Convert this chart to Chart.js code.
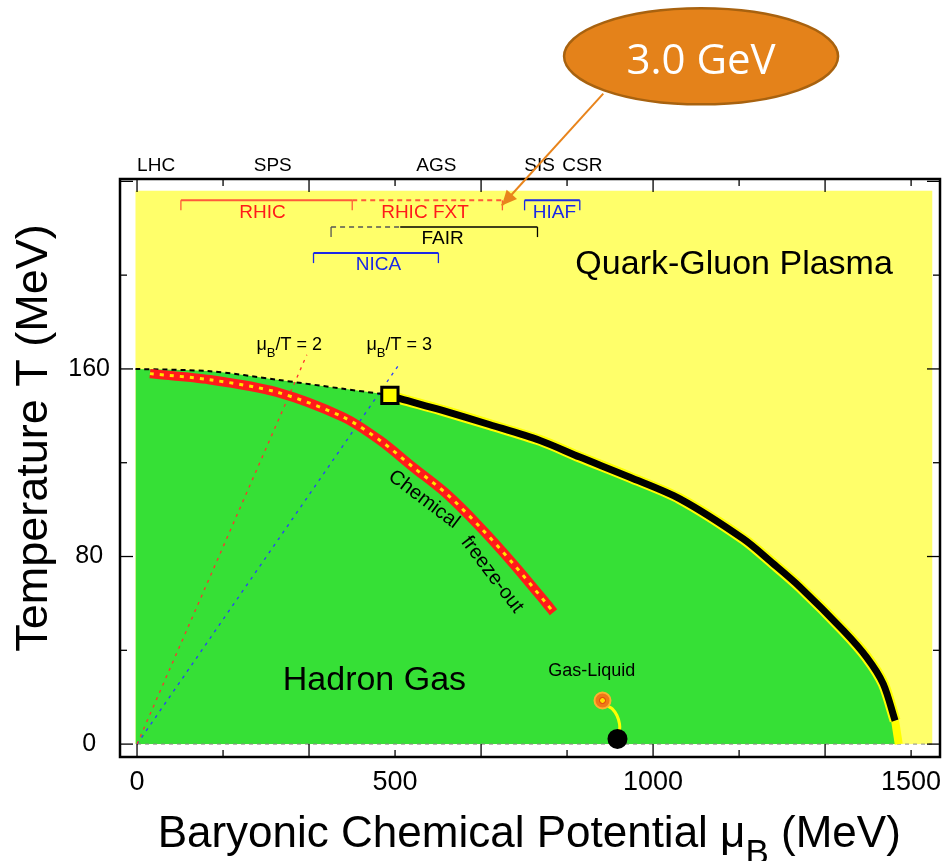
<!DOCTYPE html>
<html>
<head>
<meta charset="utf-8">
<title>QCD phase diagram</title>
<script src="https://cdn.jsdelivr.net/npm/chart.js@4.4.1/dist/chart.umd.min.js"></script>
<style>
  html, body { margin: 0; padding: 0; background: #fff; }
  #wrap { position: relative; width: 942px; height: 861px; }
</style>
</head>
<body>
<div id="wrap"><canvas id="phaseChart"></canvas></div>
<script>
// ---- data: mu_B and T, both in MeV ----
const crossoverMu = [-3, 142, 271, 400, 471, 490];
const crossoverT  = [160, 159, 155.4, 151.5, 149.4, 148.7];

const transitionMu = [490, 510, 587, 684, 781, 858, 955, 1052, 1175, 1233, 1285, 1369, 1414, 1446, 1469];
const transitionT  = [148.7, 147.3, 142.6, 136.2, 129.5, 122.4, 113.8, 104.6, 87.5, 76.9, 66.9, 48.4, 37.0, 25.7, 10.0];

const endMu = [1469, 1476];
const endT  = [10, 0];

const freezeMu = [25, 141, 271, 400, 471, 535, 600, 665, 729, 794, 807];
const freezeT  = [158.0, 155.4, 150.1, 139.4, 129.5, 118.1, 106.7, 92.5, 76.9, 59.8, 56.2];

const ratio2Mu = [0, 329];
const ratio2T  = [0, 166];
const ratio3Mu = [0, 508];
const ratio3T  = [0, 162];

const baseMu = [0, 1540];
const baseT  = [0, 0];

const criticalPoint  = [490, 148.7];
const gasLiquidPoint = [902, 18.6];
const nuclearMatter  = [931, 2.2];
const linkMu = [902, 911, 921, 930, 935, 935, 931];
const linkT  = [18.6, 16.4, 15.0, 12.2, 8.6, 5.8, 2.2];

// ticks
const xTickLabels = [0, 500, 1000, 1500];
const xMajorTicks = [0, 333.3, 666.7, 1000, 1333.3];
const xMinorTicks = [166.7, 500, 833.3, 1166.7, 1500];
const yTickLabels = [0, 80, 160];
const yMajorTicks = [0, 80, 160, 240];
const yMinorTicks = [40, 120, 200];

// accelerators along the top
const acceleratorNames = ['LHC', 'SPS', 'AGS', 'SIS', 'CSR'];
const acceleratorMu    = [37, 263, 580, 780, 863];

// facility reach brackets
const facilityNames  = ['RHIC', 'RHIC FXT', 'HIAF', 'FAIR', 'NICA'];
const facilityFrom   = [85, 417, 751, 376, 342];
const facilitySolid  = [85, 708, 751, 510, 342];   // dashed up to here
const facilityTo     = [417, 708, 858, 776, 584];
const facilityLevelT = [231.9, 231.9, 231.9, 220.5, 209.4];
const facilityLabelMu = [243, 558, 809, 592, 468];

const X_MIN = -33, X_MAX = 1556, Y_MIN = -5.5, Y_MAX = 241;
const FONT = "'Liberation Sans', Arial, Helvetica, sans-serif";

function zip(xs, ys) {
    return xs.map((x, i) => ({ x: x, y: ys[i] }));
}

const canvas = document.getElementById('phaseChart');
const ctx = canvas.getContext('2d');

const QGP_COLOR = '#ffff6a';
const HADRON_COLOR = '#36e036';

const facilityStyle = {
    'RHIC':     { line: '#ff5a3a', text: '#ff1a1a' },
    'RHIC FXT': { line: '#ff5a3a', text: '#ff1a1a' },
    'HIAF':     { line: '#1a28e6', text: '#1a28e6' },
    'FAIR':     { line: '#000000', text: '#000000', dash: '#555555' },
    'NICA':     { line: '#1a28e6', text: '#1a28e6' }
};

function text(c, str, x, y, font, color, align, baseline) {
    c.font = font;
    c.fillStyle = color;
    c.textAlign = align || 'center';
    c.textBaseline = baseline || 'alphabetic';
    c.fillText(str, x, y);
}

// text with a subscript piece: parts = [[str, isSub], ...]
function subText(c, parts, cx, y, size, color, subScale, drop) {
    const subSize = Math.round(size * (subScale || 0.72));
    const dy = size * (drop || 0.36);
    let total = 0;
    parts.forEach(p => {
        c.font = (p[1] ? subSize : size) + 'px ' + FONT;
        total += c.measureText(p[0]).width;
    });
    let x = cx - total / 2;
    c.fillStyle = color;
    c.textAlign = 'left';
    c.textBaseline = 'alphabetic';
    parts.forEach(p => {
        c.font = (p[1] ? subSize : size) + 'px ' + FONT;
        c.fillText(p[0], x, p[1] ? y + dy : y);
        x += c.measureText(p[0]).width;
    });
}

const phasePlugin = {
    id: 'phaseDecor',
    beforeDatasetsDraw(chart) {
        const c = chart.ctx, xs = chart.scales.x, ys = chart.scales.y;
        c.save();
        c.fillStyle = QGP_COLOR;
        const l = xs.getPixelForValue(-3), r = xs.getPixelForValue(1541);
        const t = ys.getPixelForValue(236), b = ys.getPixelForValue(0);
        c.fillRect(l, t, r - l, b - t);
        c.restore();
    },
    afterDatasetsDraw(chart) {
        const c = chart.ctx, xs = chart.scales.x, ys = chart.scales.y;
        const a = chart.chartArea;
        const px = v => xs.getPixelForValue(v);
        const py = v => ys.getPixelForValue(v);
        c.save();

        // region names
        text(c, 'Quark-Gluon Plasma', px(1157), py(200.6), '34px ' + FONT, '#000');
        text(c, 'Hadron Gas', px(460), py(23.0), '34px ' + FONT, '#000');
        text(c, 'Gas-Liquid', px(881), py(29.2), '18px ' + FONT, '#000');
        subText(c, [['\u03bc', false], ['B', true], ['/T = 2', false]], px(295), py(167.9), 18, '#000');
        subText(c, [['\u03bc', false], ['B', true], ['/T = 3', false]], px(508), py(167.9), 18, '#000');

        // rotated freeze-out label
        [['Chemical', 556, 104.3, 37], ['freeze-out', 688, 72.3, 53]].forEach(s => {
            c.save();
            c.translate(px(s[1]), py(s[2]));
            c.rotate(s[3] * Math.PI / 180);
            text(c, s[0], 0, 0, '20px ' + FONT, '#000', 'center', 'middle');
            c.restore();
        });

        // facility brackets
        facilityNames.forEach((name, i) => {
            const st = facilityStyle[name];
            const y = py(facilityLevelT[i]);
            const x0 = px(facilityFrom[i]), xm = px(facilitySolid[i]), x1 = px(facilityTo[i]);
            c.lineWidth = name === 'FAIR' ? 1.5 : 2;
            if (xm > x0) {
                c.strokeStyle = st.dash || st.line;
                c.setLineDash([5, 4]);
                c.beginPath(); c.moveTo(x0, y); c.lineTo(xm, y); c.stroke();
                c.setLineDash([]);
            }
            c.strokeStyle = st.line;
            if (x1 > xm) {
                c.beginPath(); c.moveTo(xm, y); c.lineTo(x1, y); c.stroke();
            }
            c.lineWidth = 1.3;
            if (name !== 'RHIC FXT') {
                c.strokeStyle = xm > x0 ? (st.dash || st.line) : st.line;
                c.beginPath(); c.moveTo(x0, y); c.lineTo(x0, y + 10); c.stroke();
            }
            c.strokeStyle = st.line;
            c.beginPath(); c.moveTo(x1, y); c.lineTo(x1, y + 10); c.stroke();
            text(c, name, px(facilityLabelMu[i]), y + 12, '19px ' + FONT, st.text, 'center', 'middle');
        });

        // frame and inward ticks
        c.strokeStyle = '#000';
        c.lineWidth = 1.3;
        const tick = (vals, len) => {
            vals.forEach(v => {
                const x = px(v);
                c.beginPath(); c.moveTo(x, a.bottom); c.lineTo(x, a.bottom - len); c.stroke();
                c.beginPath(); c.moveTo(x, a.top); c.lineTo(x, a.top + len); c.stroke();
            });
        };
        const ytick = (vals, len) => {
            vals.forEach(v => {
                const y = py(v);
                c.beginPath(); c.moveTo(a.left, y); c.lineTo(a.left + len, y); c.stroke();
                c.beginPath(); c.moveTo(a.right, y); c.lineTo(a.right - len, y); c.stroke();
            });
        };
        tick(xMajorTicks, 13);
        tick(xMinorTicks, 7);
        ytick(yMajorTicks, 13);
        ytick(yMinorTicks, 7);
        c.lineWidth = 2.5;
        c.strokeRect(a.left, a.top, a.right - a.left, a.bottom - a.top);
        c.restore();
    },
    afterDraw(chart) {
        const c = chart.ctx, xs = chart.scales.x, ys = chart.scales.y;
        const px = v => xs.getPixelForValue(v);
        const py = v => ys.getPixelForValue(v);
        c.save();

        acceleratorNames.forEach((n, i) => {
            text(c, n, px(acceleratorMu[i]), py(244.4), '19px ' + FONT, '#000');
        });

        // axis titles
        subText(c, [['Baryonic Chemical Potential \u03bc', false], ['B', true], [' (MeV)', false]],
            px(760), 847, 44, '#000', 0.8, 0.38);
        c.save();
        c.translate(47, 438);
        c.rotate(-Math.PI / 2);
        text(c, 'Temperature T (MeV)', 0, 0, '45px ' + FONT, '#000');
        c.restore();

        // 3.0 GeV callout
        const ax0 = px(903.5), ay0 = py(277.4), ax1 = px(706.8), ay1 = py(229.7);
        c.strokeStyle = '#e8841c';
        c.lineWidth = 2;
        c.beginPath(); c.moveTo(ax0, ay0); c.lineTo(ax1, ay1); c.stroke();
        const ang = Math.atan2(ay1 - ay0, ax1 - ax0);
        c.fillStyle = '#e8841c';
        c.beginPath();
        c.moveTo(ax1, ay1);
        c.lineTo(ax1 - 15 * Math.cos(ang) + 7 * Math.sin(ang), ay1 - 15 * Math.sin(ang) - 7 * Math.cos(ang));
        c.lineTo(ax1 - 15 * Math.cos(ang) - 7 * Math.sin(ang), ay1 - 15 * Math.sin(ang) + 7 * Math.cos(ang));
        c.closePath();
        c.fill();

        c.beginPath();
        c.ellipse(px(1093), py(293.3), 137, 48, 0, 0, Math.PI * 2);
        c.fillStyle = '#e4821a';
        c.fill();
        c.lineWidth = 2.5;
        c.strokeStyle = '#a8620f';
        c.stroke();
        text(c, '3.0 GeV', px(1093), py(285.9), "42px 'Open Sans', " + FONT, '#fff');
        c.restore();
    }
};

const lineDefaults = { pointRadius: 0, fill: false, tension: 0.3 };

new Chart(ctx, {
    type: 'line',
    data: {
        datasets: [
            Object.assign({}, lineDefaults, {
                label: 'Hadron gas',
                data: zip(crossoverMu.concat(transitionMu.slice(1), endMu.slice(1)),
                          crossoverT.concat(transitionT.slice(1), endT.slice(1))),
                borderWidth: 0, backgroundColor: HADRON_COLOR, fill: 'origin', order: 20
            }),
            Object.assign({}, lineDefaults, {
                label: 'T = 0', data: zip(baseMu, baseT), tension: 0,
                borderColor: '#8a8a8a', borderWidth: 1, borderDash: [4, 4], order: 19
            }),
            Object.assign({}, lineDefaults, {
                label: 'muB/T = 2', data: zip(ratio2Mu, ratio2T), tension: 0,
                borderColor: '#ff3030', borderWidth: 1.3, borderDash: [3, 5], order: 15
            }),
            Object.assign({}, lineDefaults, {
                label: 'muB/T = 3', data: zip(ratio3Mu, ratio3T), tension: 0,
                borderColor: '#2a3cff', borderWidth: 1.3, borderDash: [3, 5], order: 15
            }),
            Object.assign({}, lineDefaults, {
                label: 'Crossover', data: zip(crossoverMu, crossoverT),
                borderColor: '#000', borderWidth: 2, borderDash: [5, 4], order: 10
            }),
            Object.assign({}, lineDefaults, {
                label: 'Transition edge', data: zip(transitionMu, transitionT),
                borderColor: '#ffff00', borderWidth: 11, order: 9
            }),
            Object.assign({}, lineDefaults, {
                label: 'First-order transition', data: zip(transitionMu, transitionT),
                borderColor: '#000', borderWidth: 7, order: 8
            }),
            Object.assign({}, lineDefaults, {
                label: 'T -> 0 end', data: zip(endMu, endT), tension: 0,
                borderColor: '#ffff00', borderWidth: 8, order: 8
            }),
            Object.assign({}, lineDefaults, {
                label: 'Chemical freeze-out', data: zip(freezeMu, freezeT),
                borderColor: '#ff1a1a', borderWidth: 9.5, order: 7
            }),
            Object.assign({}, lineDefaults, {
                label: 'Chemical freeze-out core', data: zip(freezeMu, freezeT),
                borderColor: '#ffe600', borderWidth: 3, borderDash: [4, 6], order: 6
            }),
            Object.assign({}, lineDefaults, {
                label: 'Gas-liquid link', data: zip(linkMu, linkT), tension: 0.4,
                borderColor: '#ffff00', borderWidth: 3, order: 5
            }),
            {
                label: 'Gas-liquid critical point', data: zip([gasLiquidPoint[0]], [gasLiquidPoint[1]]),
                showLine: false, pointRadius: 8, pointBackgroundColor: '#f07818',
                pointBorderColor: '#ffb030', pointBorderWidth: 2, order: 4
            },
            {
                label: 'Gas-liquid core', data: zip([gasLiquidPoint[0]], [gasLiquidPoint[1]]),
                showLine: false, pointRadius: 3, pointBackgroundColor: '#ffe000',
                pointBorderColor: '#e03010', pointBorderWidth: 1, order: 3
            },
            {
                label: 'Nuclear matter', data: zip([nuclearMatter[0]], [nuclearMatter[1]]),
                showLine: false, pointRadius: 10, pointBackgroundColor: '#000',
                pointBorderWidth: 0, order: 3
            },
            {
                label: 'Critical point', data: zip([criticalPoint[0]], [criticalPoint[1]]),
                showLine: false, pointStyle: 'rect', pointRadius: 11.5,
                pointBackgroundColor: '#ffff00', pointBorderColor: '#000', pointBorderWidth: 3, order: 1
            }
        ]
    },
    options: {
        responsive: true,
        maintainAspectRatio: false,
        animation: false,
        layout: { autoPadding: false, padding: { top: 179, right: 2, left: 0, bottom: 0 } },
        plugins: {
            legend: { display: false },
            tooltip: { enabled: false }
        },
        scales: {
            x: {
                type: 'linear', min: X_MIN, max: X_MAX,
                afterBuildTicks: s => { s.ticks = xTickLabels.map(v => ({ value: v })); },
                afterFit: s => { s.height = 104; s.paddingLeft = 0; s.paddingRight = 0; },
                grid: { display: false, drawTicks: false },
                border: { display: false },
                ticks: {
                    color: '#000', font: { family: FONT, size: 27 }, padding: 9,
                    maxRotation: 0, autoSkip: false, callback: v => String(v)
                }
            },
            y: {
                type: 'linear', min: Y_MIN, max: Y_MAX,
                afterBuildTicks: s => { s.ticks = yTickLabels.map(v => ({ value: v })); },
                afterFit: s => { s.width = 120; s.paddingTop = 0; s.paddingBottom = 0; },
                grid: { display: false, drawTicks: false },
                border: { display: false },
                ticks: {
                    color: '#000', font: { family: FONT, size: 25 }, padding: 10,
                    crossAlign: 'center', autoSkip: false, callback: v => String(v)
                }
            }
        }
    },
    plugins: [phasePlugin]
});
</script>
</body>
</html>
